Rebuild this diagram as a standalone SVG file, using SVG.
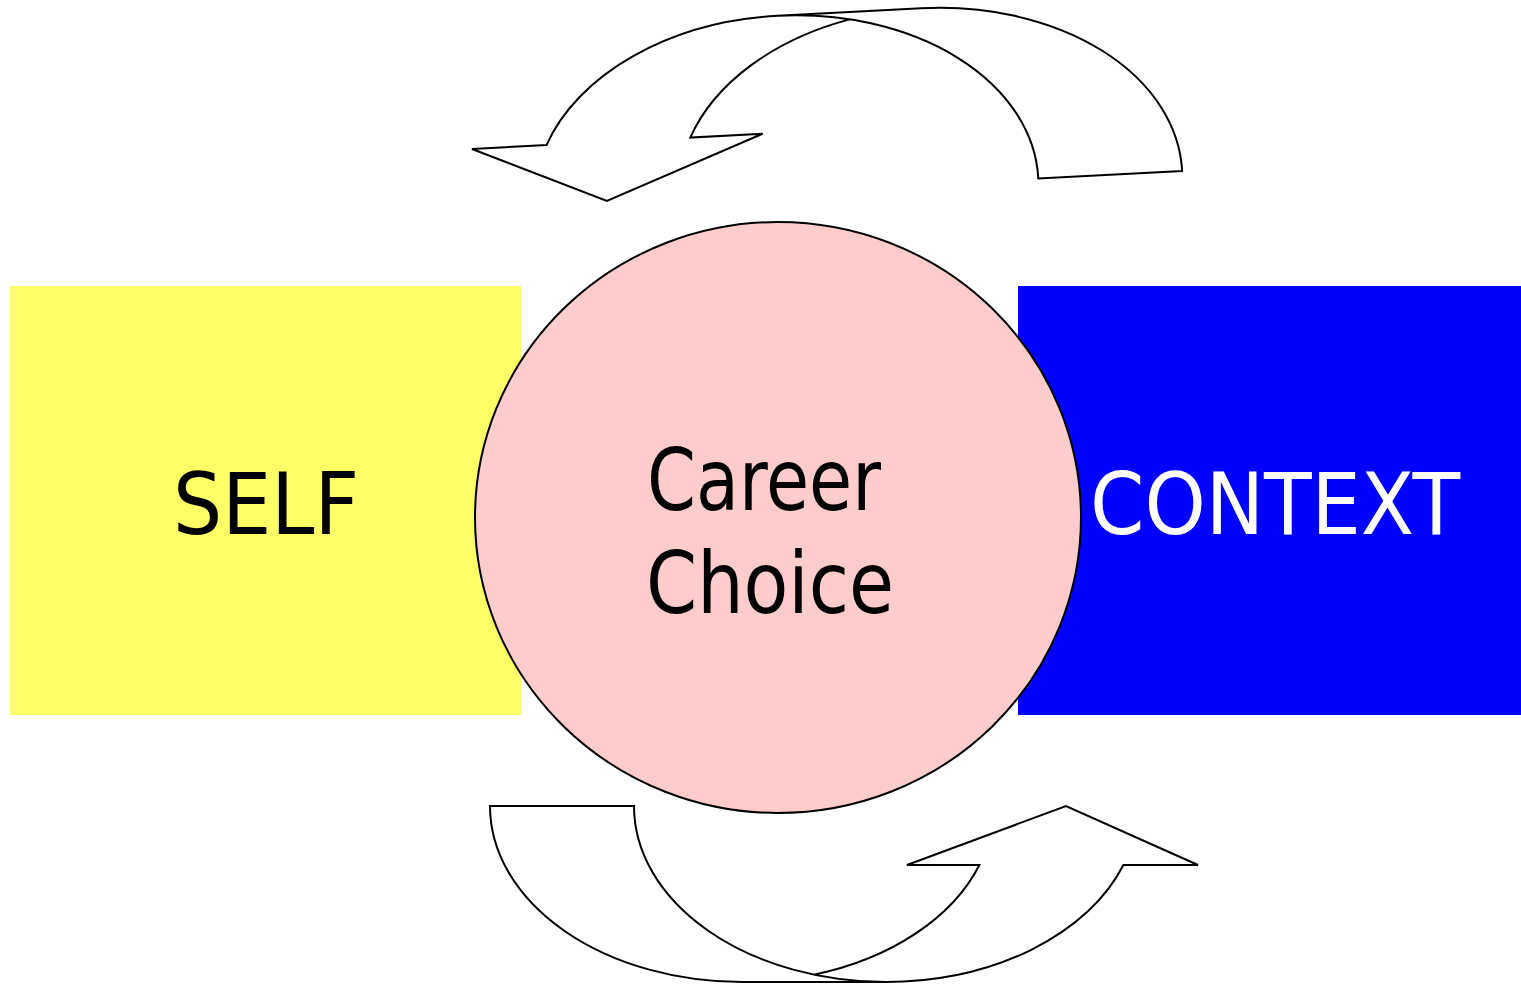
<svg xmlns="http://www.w3.org/2000/svg" width="1521" height="984" viewBox="0 0 1521 984">
  <defs>
    <style>
      .lbl { font-family: "DejaVu Sans Condensed", "DejaVu Sans", "Liberation Sans", sans-serif; font-stretch: condensed; font-size: 86px; }
      .arrow { fill: #FFFFFF; stroke: #000000; stroke-width: 2; stroke-linejoin: miter; }
      .arrowfill { fill: #FFFFFF; stroke: none; }
    </style>
    <path id="curvedArrow" d="M 814,974.7 A 252 176 0 0 0 979.4,865 L 907,865 L 1066,806 L 1198,865 L 1123.4,865 A 252 176 0 0 1 886,982 L 742,982 A 252 176 0 0 1 490,806 L 634,806 A 252 176 0 0 0 886,982"/>
  </defs>
  <rect x="0" y="0" width="1521" height="984" fill="#FFFFFF"/>

  <g id="self">
    <rect x="10" y="286" width="511" height="429" fill="#FFFF66"/>
    <text class="lbl" x="173" y="534" textLength="186" lengthAdjust="spacingAndGlyphs" fill="#000000">SELF</text>
  </g>

  <g id="context">
    <rect x="1018" y="286" width="503" height="429" fill="#0000FF"/>
    <text class="lbl" x="1090" y="534" textLength="370" lengthAdjust="spacingAndGlyphs" fill="#FFFFFF">CONTEXT</text>
  </g>

  <g id="career-choice">
    <ellipse cx="778" cy="517.5" rx="303" ry="295.5" fill="#FFCCCC" stroke="#000000" stroke-width="2"/>
    <text class="lbl" x="647" y="510" textLength="234" lengthAdjust="spacingAndGlyphs" fill="#000000">Career</text>
    <text class="lbl" x="646" y="613" textLength="248" lengthAdjust="spacingAndGlyphs" fill="#000000">Choice</text>
  </g>

  <g id="connectors">
    <g id="arrow-bottom">
      <use href="#curvedArrow" class="arrow"/>
    </g>
    <g id="arrow-top" transform="matrix(-0.99864 0.05216 -0.05216 -0.99864 1713.5 950.3)">
      <use href="#curvedArrow" class="arrow"/>
    </g>
  </g>
</svg>
